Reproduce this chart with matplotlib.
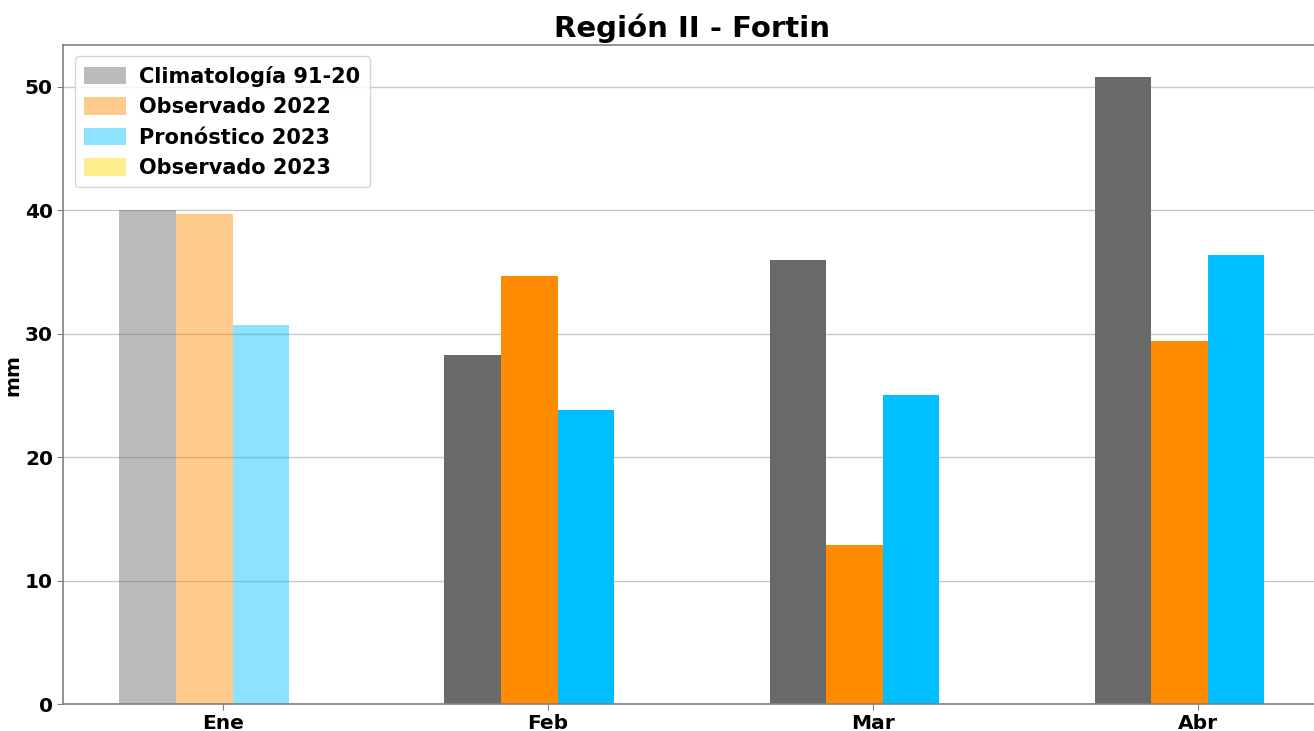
import matplotlib.pyplot as plt
import numpy as np

# Data
months = ['Ene', 'Feb', 'Mar', 'Abr']
climatologia = [40.0, 28.3, 36.0, 50.8]
observado_2022 = [39.7, 34.7, 12.9, 29.4]
pronostico_2023 = [30.7, 23.8, 25.0, 36.4]
observado_2023 = [np.nan, np.nan, np.nan, np.nan]

labels = ['Climatología 91-20', 'Observado 2022', 'Pronóstico 2023', 'Observado 2023']
colors = ['dimgray', 'darkorange', 'deepskyblue', 'gold']
series = [climatologia, observado_2022, pronostico_2023, observado_2023]

W, H = 1314, 731
fig = plt.figure(figsize=(W / 100, H / 100), dpi=100)
ax_left, ax_right, ax_top, ax_bottom = 63.3, 1321, 45, 704
ax = fig.add_axes([ax_left / W, 1 - ax_bottom / H,
                   (ax_right - ax_left) / W, (ax_bottom - ax_top) / H])

x = np.arange(len(months))
bar_width = 0.174
offsets = (np.arange(4) - 1.33) * bar_width

for i, (vals, lab, col) in enumerate(zip(series, labels, colors)):
    vals = np.array(vals, dtype=float)
    # first month drawn lighter (carries the legend label)
    ax.bar(x[0] + offsets[i], vals[0], bar_width, color=col, alpha=0.45, label=lab, zorder=2)
    ax.bar(x[1:] + offsets[i], vals[1:], bar_width, color=col, zorder=2)

ax.set_xlim(-0.491, 3.378)
ax.set_ylim(0, 53.4)
ax.set_xticks(x)
ax.set_xticklabels(months, fontsize=14.5, fontweight='bold')
ax.set_yticks([0, 10, 20, 30, 40, 50])
ax.set_yticklabels(['0', '10', '20', '30', '40', '50'], fontsize=14.5, fontweight='bold')
ax.set_ylabel('mm', fontsize=14.5, fontweight='bold', labelpad=2)
ax.set_title('Región II - Fortin', fontsize=21, fontweight='bold', pad=6)

ax.yaxis.grid(True, color='#c8c8c8', linewidth=1, zorder=0)
ax.set_axisbelow(True)
for s in ax.spines.values():
    s.set_color('#808080')
    s.set_linewidth(1.2)
ax.tick_params(axis='both', colors='#808080', labelcolor='black', length=4)

ax.legend(loc='upper left', prop={'size': 15, 'weight': 'bold'}, framealpha=0.8,
          borderpad=0.45, handlelength=2.0, handleheight=0.9, labelspacing=0.5,
          handletextpad=0.65, borderaxespad=0.55)

fig.savefig('out.png', dpi=100)
